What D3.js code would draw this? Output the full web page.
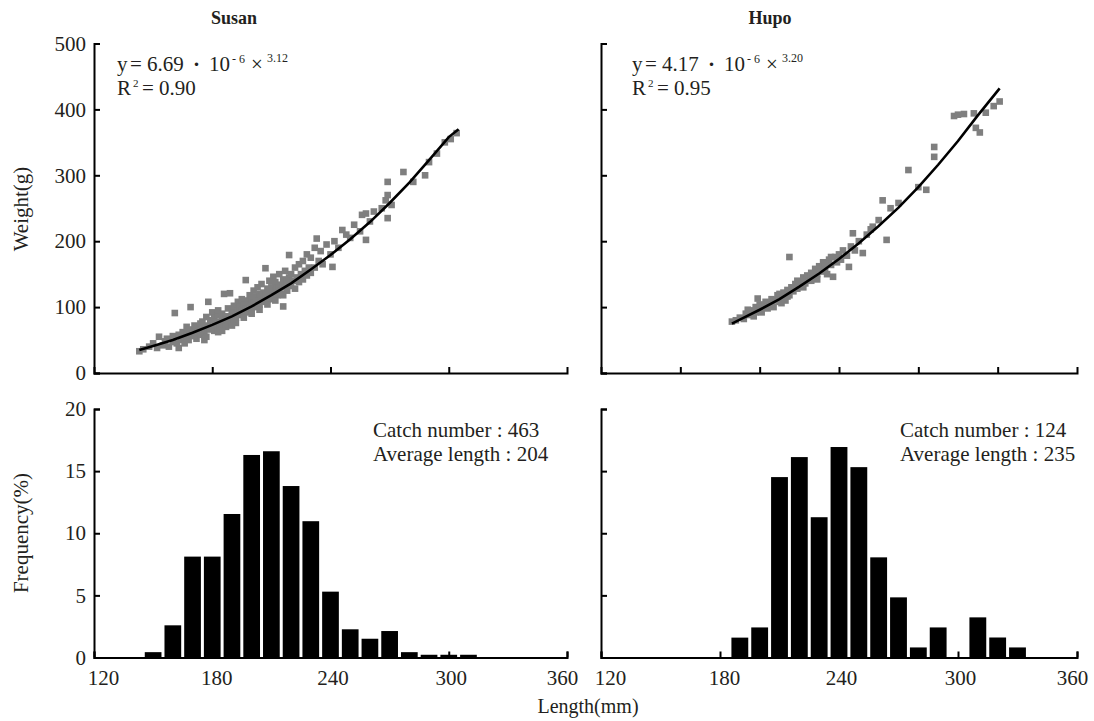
<!DOCTYPE html>
<html>
<head>
<meta charset="utf-8">
<script src="https://cdn.jsdelivr.net/npm/d3@7"></script>
<style>
body{margin:0;background:#fff}
svg text{font-family:"Liberation Serif","Times New Roman",serif;fill:#231f20}
.axis path,.axis line{stroke:#000;stroke-width:2;fill:none}
.axis text{font-size:21px;font-family:"Liberation Serif","Times New Roman",serif;fill:#231f20}
</style>
</head>
<body>
<svg id="chart" width="1094" height="721"></svg>
<script>
// ---- data ----
const speciesNames = ["Susan", "Hupo"];
const lengthTicks = [120, 180, 240, 300, 360];
const weightTicks = [0, 100, 200, 300, 400, 500];
const freqTicks = [0, 5, 10, 15, 20];
const topTicksSusan = [180, 240, 300];
const topTicksHupo = [160, 200, 240, 280, 320];

// length (mm), weight (g)
const susanPoints = [[143,33],[145,36],[148,40],[150,45],[152,38],[153,55],[155,42],[156,48],[157,52],[158,40],
[160,47],[160,56],[161,91],[162,45],[163,58],[163,38],[164,50],[165,62],[165,54],[166,45],[167,70],[167,58],
[168,63],[168,50],[169,100],[170,56],[170,66],[171,72],[171,60],[172,52],[172,69],[173,62],[174,75],[174,58],
[175,66],[175,78],[176,62],[176,70],[177,85],[177,55],[178,108],[178,72],[179,66],[179,80],[180,74],[180,92],
[181,64],[181,84],[182,78],[182,70],[183,88],[183,95],[184,76],[184,68],[185,82],[185,90],[186,120],[186,74],
[187,86],[187,80],[188,98],[188,78],[189,121],[189,84],[190,88],[190,95],[191,80],[191,102],[192,90],[192,84],
[193,94],[193,108],[194,88],[194,100],[195,96],[195,112],[196,90],[196,104],[197,141],[197,98],[198,110],[198,92],
[199,104],[199,118],[200,98],[200,112],[201,106],[201,125],[202,100],[202,116],[203,110],[203,130],[204,104],[204,120],
[205,115],[205,135],[206,108],[206,122],[207,159],[207,118],[208,128],[208,112],[209,122],[209,140],[210,118],[210,130],
[211,112],[211,146],[212,124],[212,138],[213,130],[213,118],[214,150],[214,128],[215,134],[215,120],[216,101],[216,142],
[217,130],[217,155],[218,138],[218,125],[219,179],[219,145],[220,132],[220,150],[221,140],[222,160],[222,128],[223,145],
[224,165],[224,138],[225,150],[226,170],[226,142],[227,155],[228,180],[228,148],[229,160],[230,175],[230,152],[232,190],
[232,160],[233,204],[234,170],[235,185],[236,165],[238,195],[240,180],[241,161],[242,200],[244,190],[246,217],[248,210],
[250,205],[252,225],[255,215],[256,240],[258,242],[258,202],[260,230],[262,245],[266,250],[268,262],[269,270],[269,235],
[269,290],[271,255],[277,305],[282,290],[288,300],[290,320],[294,333],[298,350],[301,355],[304,364],
[176,50],[183,62],[187,70],[192,76],[196,84],[200,90],[204,96],[208,104],[212,110],[216,118],[185,64],[190,72]];

const hupoPoints = [[186,78],[188,80],[190,84],[192,82],[193,90],[195,88],[196,95],[197,86],[198,100],[199,113],
[200,96],[200,104],[201,92],[202,100],[203,108],[204,98],[205,105],[206,112],[207,100],[208,110],[209,118],[210,108],
[210,120],[211,114],[212,122],[213,110],[214,126],[215,176],[215,118],[216,130],[217,124],[218,135],[219,128],[220,138],
[221,132],[222,145],[223,136],[224,148],[225,140],[226,152],[227,144],[228,158],[229,150],[230,162],[231,154],[232,168],
[233,158],[234,150],[235,172],[236,164],[237,146],[238,176],[239,168],[240,180],[241,172],[242,186],[244,178],[245,161],
[246,192],[247,212],[248,186],[250,200],[252,182],[254,210],[256,218],[257,222],[260,232],[262,262],[264,202],[266,250],
[270,258],[275,308],[280,282],[284,278],[288,343],[288,328],[298,390],[300,392],[303,393],[308,394],[309,372],[311,365],
[314,395],[318,405],[321,412],
[194,96],[198,92],[203,100],[206,104],[211,106],[214,116],[219,140],[222,130],[226,140],[229,142],[233,166],[236,176]];

// fitted curve as traced on the figure
const susanCurve = [[143,35],[150,41],[160,50],[170,61],[180,73],[190,86],[200,101],[210,118],[220,136],[230,157],
[240,179],[250,203],[260,229],[270,258],[280,289],[290,323],[300,358],[305,370]];
const hupoCurve = [[186,75],[190,81],[200,96],[210,112],[220,131],[230,151],[240,173],[250,197],[260,223],[270,251],
[280,282],[290,316],[300,352],[310,391],[321,432]];

// length-frequency (%) by 10 mm class mid-point
const susanBins = [150,160,170,180,190,200,210,220,230,240,250,260,270,280,290,300,310];
const susanFreq = [0.43,2.59,8.12,8.12,11.55,16.3,16.6,13.8,10.97,5.3,2.27,1.51,2.13,0.43,0.22,0.22,0.22];
const hupoBins = [190,200,210,220,230,240,250,260,270,280,290,300,310,320,330];
const hupoFreq = [1.6,2.42,14.52,16.13,11.29,16.94,15.32,8.06,4.84,0.81,2.42,0,3.23,1.61,0.81];

const susanInfo = ["Catch number : 463", "Average length : 204"];
const hupoInfo = ["Catch number : 124", "Average length : 235"];

// ---- layout ----
const svg = d3.select("#chart");
const cols = [[94, 567], [601, 1077]];
const topY = [373, 43.5];
const botY = [657.5, 409];

function scatterPanel(i, points, curve, topTicks, eq) {
    const x = d3.scaleLinear().domain([120, 360]).range(cols[i]);
    const y = d3.scaleLinear().domain([0, 500]).range(topY);
    const g = svg.append("g");

    g.selectAll("rect.pt")
        .data(points)
        .enter()
        .append("rect")
        .attr("class", "pt")
        .attr("x", d => x(d[0]) - 3.3)
        .attr("y", d => y(d[1]) - 3.3)
        .attr("width", 6.6)
        .attr("height", 6.6)
        .attr("fill", "#7f7f7f");

    const line = d3.line()
        .curve(d3.curveLinear)
        .x(d => x(d[0]))
        .y(d => y(d[1]));
    g.append("path")
        .attr("d", line(curve))
        .attr("fill", "none")
        .attr("stroke", "#000")
        .attr("stroke-width", 2.6);

    g.append("g").attr("class", "axis")
        .attr("transform", "translate(0," + topY[0] + ")")
        .call(d3.axisBottom(x).tickValues(topTicks).tickSize(-6).tickFormat(""));
    g.append("g").attr("class", "axis")
        .attr("transform", "translate(" + cols[i][0] + ",0)")
        .call(d3.axisLeft(y).tickValues(weightTicks).tickSize(-6).tickPadding(8)
            .tickFormat(i === 0 ? d3.format("d") : ""));

    // equation
    const x0 = cols[i][0] + (i === 0 ? 23 : 31);
    const t1 = g.append("text").attr("y", 71).style("font-size", "21px");
    t1.append("tspan").attr("x", x0).text("y");
    t1.append("tspan").attr("x", x0 + 13).text("=");
    t1.append("tspan").attr("x", x0 + 30).text(eq[0]);
    t1.append("tspan").attr("x", x0 + 76).style("font-weight", "bold").text("·");
    t1.append("tspan").attr("x", x0 + 92).text("10");
    t1.append("tspan").attr("x", x0 + 115).attr("dy", -8).style("font-size", "12px").text("- 6");
    t1.append("tspan").attr("x", x0 + 134).attr("dy", 8).text("×");
    t1.append("tspan").attr("x", x0 + 150).attr("dy", -9).style("font-size", "12px").text(eq[1]);

    const t2 = g.append("text").attr("y", 95).style("font-size", "21px");
    t2.append("tspan").attr("x", x0).text("R");
    t2.append("tspan").attr("x", x0 + 16).attr("dy", -8).style("font-size", "11px").text("2");
    t2.append("tspan").attr("x", x0 + 25).attr("dy", 8).text("=");
    t2.append("tspan").attr("x", x0 + 42).text(eq[2]);

    g.append("text")
        .attr("x", cols[i][0] + (i === 0 ? 140 : 169))
        .attr("y", 24)
        .attr("text-anchor", "middle")
        .style("font-size", "18px")
        .style("font-weight", "bold")
        .text(speciesNames[i]);
}

function histPanel(i, bins, freq, info) {
    const x = d3.scaleLinear().domain([120, 360]).range(cols[i]);
    const y = d3.scaleLinear().domain([0, 20]).range(botY);
    const g = svg.append("g");
    const data = bins.map((b, k) => ({mid: b, value: freq[k]})).filter(d => d.value > 0);

    g.selectAll("rect.bar")
        .data(data)
        .enter()
        .append("rect")
        .attr("class", "bar")
        .attr("x", d => x(d.mid - 5) + 1.5)
        .attr("width", d => x(d.mid + 5) - x(d.mid - 5) - 3)
        .attr("y", d => y(d.value))
        .attr("height", d => y(0) - y(d.value))
        .attr("fill", "#000");

    const xa = g.append("g").attr("class", "axis")
        .attr("transform", "translate(0," + botY[0] + ")")
        .call(d3.axisBottom(x).tickValues(lengthTicks).tickSize(-6).tickPadding(13).tickFormat(d3.format("d")));
    xa.selectAll(".tick text")
        .attr("dx", d => d === 120 ? 9 : (d === 360 ? -5 : (d === 180 ? 4 : 2)));

    g.append("g").attr("class", "axis")
        .attr("transform", "translate(" + cols[i][0] + ",0)")
        .call(d3.axisLeft(y).tickValues(freqTicks).tickSize(-6).tickPadding(8)
            .tickFormat(i === 0 ? d3.format("d") : ""));

    g.selectAll("text.info")
        .data(info)
        .enter()
        .append("text")
        .attr("class", "info")
        .attr("x", cols[i][0] + (i === 0 ? 279 : 299))
        .attr("y", (d, k) => 437 + k * 24)
        .style("font-size", "21px")
        .text(d => d);
}

scatterPanel(0, susanPoints, susanCurve, topTicksSusan, ["6.69", "3.12", "0.90"]);
scatterPanel(1, hupoPoints, hupoCurve, topTicksHupo, ["4.17", "3.20", "0.95"]);
histPanel(0, susanBins, susanFreq, susanInfo);
histPanel(1, hupoBins, hupoFreq, hupoInfo);

// axis titles
svg.append("text")
    .attr("transform", "translate(28,209) rotate(-90)")
    .attr("text-anchor", "middle")
    .style("font-size", "21px")
    .text("Weight(g)");
svg.append("text")
    .attr("transform", "translate(28,533) rotate(-90)")
    .attr("text-anchor", "middle")
    .style("font-size", "21px")
    .text("Frequency(%)");
svg.append("text")
    .attr("x", 588)
    .attr("y", 713)
    .attr("text-anchor", "middle")
    .style("font-size", "20px")
    .text("Length(mm)");
</script>
</body>
</html>
